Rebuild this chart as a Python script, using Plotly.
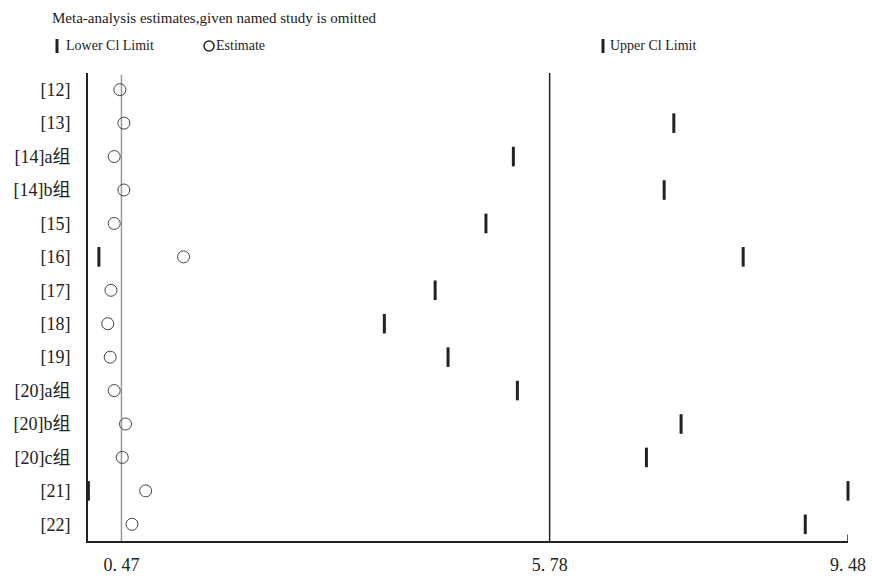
import plotly.graph_objects as go

studies = ["[12]", "[13]", "[14]a组", "[14]b组", "[15]", "[16]", "[17]", "[18]",
           "[19]", "[20]a组", "[20]b组", "[20]c组", "[21]", "[22]"]
estimate = [0.45, 0.50, 0.38, 0.50, 0.38, 1.24, 0.34, 0.30, 0.33, 0.38, 0.52, 0.48, 0.77, 0.60]
lower_ci = [None, None, 0.04, None, 0.04, 0.19, 0.04, None, None, 0.04, None, None, 0.06, None]
upper_ci = [None, 7.32, 5.33, 7.20, 4.99, 8.18, 4.36, 3.73, 4.52, 5.38, 7.41, 6.98, 9.48, 8.95]
x_ticks = [0.47, 5.78, 9.48]
x_ticktext = ["0. 47", "5. 78", "9. 48"]
x_min = 0.055

FONT = "Liberation Serif, Noto Sans CJK SC, serif"
ypos = list(range(len(studies)))

fig = go.Figure()
fig.add_trace(go.Scatter(x=lower_ci, y=ypos, mode="markers", cliponaxis=False,
                         marker=dict(symbol="line-ns", size=14, line=dict(width=3, color="#222")),
                         name="Lower Cl Limit", showlegend=False))
fig.add_trace(go.Scatter(x=estimate, y=ypos, mode="markers", cliponaxis=False,
                         marker=dict(symbol="circle-open", size=12, color="#444", line=dict(width=1)),
                         name="Estimate", showlegend=False))
fig.add_trace(go.Scatter(x=upper_ci, y=ypos, mode="markers", cliponaxis=False,
                         marker=dict(symbol="line-ns", size=14, line=dict(width=3, color="#222")),
                         name="Upper Cl Limit", showlegend=False))

# reference lines
fig.add_shape(type="line", xref="x", yref="paper", x0=x_ticks[0], x1=x_ticks[0], y0=0, y1=0.996,
              line=dict(color="#999", width=1.5), layer="below")
fig.add_shape(type="line", xref="x", yref="paper", x0=x_ticks[1], x1=x_ticks[1], y0=0, y1=1,
              line=dict(color="#222", width=1.5), layer="below")
# end tick on x axis
fig.add_shape(type="line", xref="x", yref="paper", x0=x_ticks[2], x1=x_ticks[2], y0=0, y1=0.014,
              line=dict(color="#222", width=1.5))

def px2x(px):
    return (px - 88) / 760.0
def py2y(py):
    return (541 - py) / 468.0

leg_y = py2y(46)
for mx, tx, label in [(57, 64, "Lower Cl Limit"), (603, 608, "Upper Cl Limit")]:
    fig.add_shape(type="line", xref="paper", yref="paper", x0=px2x(mx), x1=px2x(mx),
                  y0=leg_y - 7 / 468, y1=leg_y + 7 / 468, line=dict(color="#222", width=3))
    fig.add_annotation(xref="paper", yref="paper", x=px2x(tx), y=leg_y, text=label,
                       showarrow=False, xanchor="left", yanchor="middle",
                       font=dict(family=FONT, size=14, color="#222"))
fig.add_shape(type="circle", xref="paper", yref="paper", x0=px2x(204), x1=px2x(214),
              y0=leg_y - 5 / 468, y1=leg_y + 5 / 468, line=dict(color="#222", width=1.5))
fig.add_annotation(xref="paper", yref="paper", x=px2x(214), y=leg_y, text="Estimate",
                   showarrow=False, xanchor="left", yanchor="middle",
                   font=dict(family=FONT, size=14, color="#222"))

fig.add_annotation(xref="paper", yref="paper", x=px2x(50), y=py2y(18),
                   text="Meta-analysis estimates,given named study is omitted",
                   showarrow=False, xanchor="left", yanchor="middle",
                   font=dict(family=FONT, size=15, color="#222"))

fig.update_layout(
    width=872, height=576,
    margin=dict(l=88, r=24, t=73, b=35),
    paper_bgcolor="white", plot_bgcolor="white",
    font=dict(family=FONT, size=16, color="#222"),
    showlegend=False,
    xaxis=dict(range=[x_min, x_ticks[2]], tickvals=x_ticks, ticktext=x_ticktext,
               showgrid=False, zeroline=False, showline=True, linecolor="#222", linewidth=2,
               ticks="", ticklabelstandoff=6, automargin=False, layer="below traces",
               tickfont=dict(family=FONT, size=18)),
    yaxis=dict(range=[len(studies) - 0.5, -0.5], tickvals=ypos, ticktext=studies,
               showgrid=False, zeroline=False, showline=True, linecolor="#222", linewidth=2,
               ticks="", ticklabelstandoff=12, automargin=False, layer="below traces",
               tickfont=dict(family=FONT, size=18)),
)

fig.write_html("out.html")
